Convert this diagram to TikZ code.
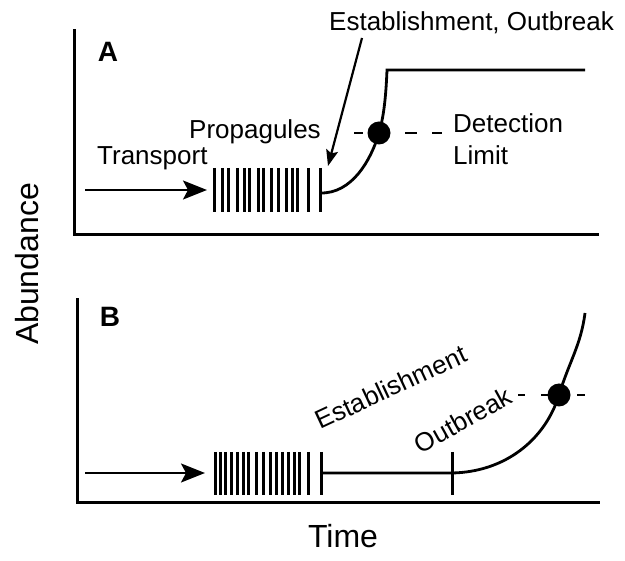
\documentclass[tikz,border=0pt]{standalone}
\usepackage{fontspec}
\setmainfont{Liberation Sans}
\usetikzlibrary{arrows.meta}
\tikzset{
  axis/.style={line width=3pt, line cap=rect},
  curve/.style={line width=2.8pt},
  bar/.style={line width=3pt},
  bigarrow/.style={line width=2.2pt, -{Stealth[length=24pt,width=19pt,inset=5pt]}},
  smallarrow/.style={line width=2.2pt, -{Stealth[length=16pt,width=12pt,inset=3pt]}},
  lbl/.style={inner sep=0pt, font=\fontsize{26}{30}\selectfont},
  axlbl/.style={inner sep=0pt, font=\fontsize{32}{36}\selectfont},
  panel/.style={inner sep=0pt, font=\fontsize{28}{30}\selectfont\bfseries},
  dashbit/.style={line width=2.8pt},
  dotfill/.style={fill=black, draw=none}
}
\begin{document}
\begin{tikzpicture}[x=1pt,y=-1pt]
\useasboundingbox (0,0) rectangle (625,561);
% ---------- panel A ----------
\coordinate (aTop) at (74,31);
\coordinate (aO) at (74,235);
\coordinate (aEnd) at (597,235);
\draw[axis] (aTop) -- (aO) -- (aEnd);
\node[panel] (labA) at (108,52) {A};
\coordinate (aT0) at (85,190);
\coordinate (aT1) at (207,190);
\draw[bigarrow] (aT0) -- (aT1);
\node[lbl, anchor=base west] (transA) at (97,165) {Transport};
\node[lbl, anchor=base west] (prop) at (189,139) {Propagules};
\foreach \x in {214,222,228,237,244,249,258,263,271,278,286,292,297,308,320}
  \draw[bar] (\x,168) -- (\x,212);
\coordinate (aS) at (320,193);
\coordinate (aDot) at (379,133);
\coordinate (aCorner) at (387,70);
\coordinate (aPlat) at (585,70);
\draw[curve, line join=miter] (aS) .. controls (352,194) and (371,160) .. (aDot)
  .. controls (384,116) and (386,95) .. (aCorner) -- (aPlat);
\draw[dashbit] (354,133) -- (363,133);
\draw[dashbit] (405,133) -- (417,133);
\draw[dashbit] (432,133) -- (442,133);
\fill[dotfill] (aDot) circle (11.5);
\node[lbl, anchor=base west] (det) at (453,133) {Detection};
\node[lbl, anchor=base west] (lim) at (453,165) {Limit};
\node[lbl, anchor=base west] (estA) at (329,31) {Establishment, Outbreak};
\coordinate (eA0) at (362,38);
\coordinate (eA1) at (328,166);
\draw[smallarrow] (eA0) -- (eA1);
% ---------- panel B ----------
\coordinate (bTop) at (77,300);
\coordinate (bO) at (77,503);
\coordinate (bEnd) at (598,503);
\draw[axis] (bTop) -- (bO) -- (bEnd);
\node[panel] (labB) at (110,317) {B};
\coordinate (bT0) at (85,473);
\coordinate (bT1) at (205,473);
\draw[bigarrow] (bT0) -- (bT1);
\foreach \x in {215,220,225,231,237,243,248,256,263,270,276,282,288,294,299,308}
  \draw[bar] (\x,452) -- (\x,495);
\coordinate (bS) at (321,473);
\coordinate (bK) at (452,473);
\coordinate (bDot) at (559,395);
\coordinate (bTopEnd) at (585,313);
\draw[bar] (321,452) -- (321,495);
\draw[bar] (452,452) -- (452,495);
\draw[curve] (bS) -- (bK) .. controls (505,472) and (545,440) .. (bDot)
  .. controls (569,362) and (581,345) .. (bTopEnd);
\draw[dashbit] (518,395) -- (525,395);
\draw[dashbit] (541,395) -- (549,395);
\draw[dashbit] (577,395) -- (585,395);
\fill[dotfill] (bDot) circle (11.5);
\node[lbl, rotate=25] (estB) at (391,387) {Establishment};
\node[lbl, rotate=29] (outB) at (463,420) {Outbreak};
% ---------- axis labels ----------
\node[axlbl, rotate=90] (ylab) at (27,264) {Abundance};
\node[axlbl, anchor=base] (xlab) at (343,548) {Time};
\end{tikzpicture}
\end{document}
